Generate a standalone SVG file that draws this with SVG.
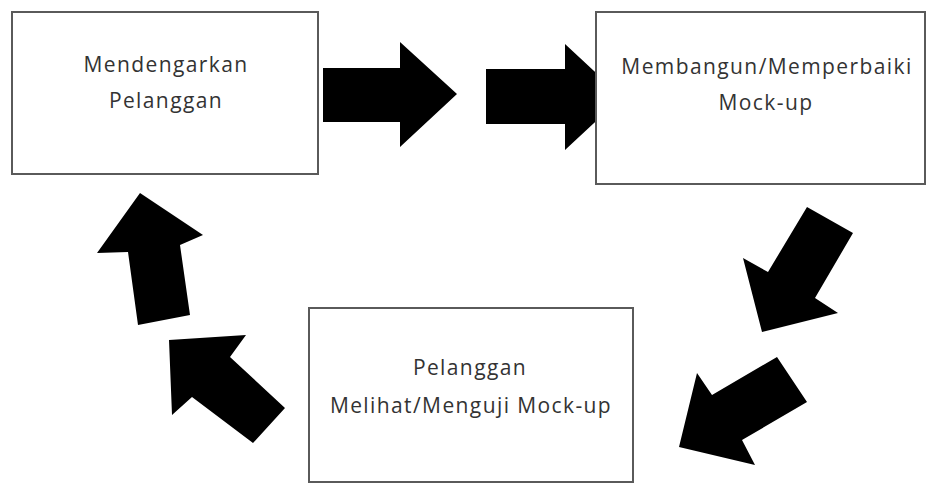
<svg xmlns="http://www.w3.org/2000/svg" width="926" height="484" viewBox="0 0 926 484">
<style>
.box{fill:#fff;stroke:#5a5a5a;stroke-width:2}
.lbl{font-family:"Open Sans","Liberation Sans",sans-serif;font-size:21px;letter-spacing:1.4px;fill:#333;text-anchor:middle}
.arr{fill:#000}
</style>
<rect width="926" height="484" fill="#fff"/>
<g id="connectors">
<polygon class="arr" points="323,68 400,68 400,42 457,94 400,147 400,122 323,122"/>
<polygon class="arr" points="486,69 565,69 565,44 622,97 565,150 565,124 486,124"/>
<polygon class="arr" points="807,207 853,233 815,298 838,313 762,332 743,258 768,272"/>
<polygon class="arr" points="777,357 807,402 742,440 755,465 679,447 697,373 712,395"/>
<polygon class="arr" points="140,193 203,235 180,245 190,315 138,325 128,252 97,253"/>
<polygon class="arr" points="169,340 246,335 230,357 285,408 253,443 192,397 172,415"/>
</g>
<g id="node1">
<rect class="box" x="12" y="12" width="306" height="162"/>
<text class="lbl" x="166" y="72">Mendengarkan</text>
<text class="lbl" x="166" y="108">Pelanggan</text>
</g>
<g id="node2">
<rect class="box" x="596" y="12" width="329" height="172"/>
<text class="lbl" x="767" y="74">Membangun/Memperbaiki</text>
<text class="lbl" x="766" y="110">Mock-up</text>
</g>
<g id="node3">
<rect class="box" x="309" y="308" width="324" height="174"/>
<text class="lbl" x="470" y="375">Pelanggan</text>
<text class="lbl" x="471" y="413">Melihat/Menguji Mock-up</text>
</g>
</svg>
